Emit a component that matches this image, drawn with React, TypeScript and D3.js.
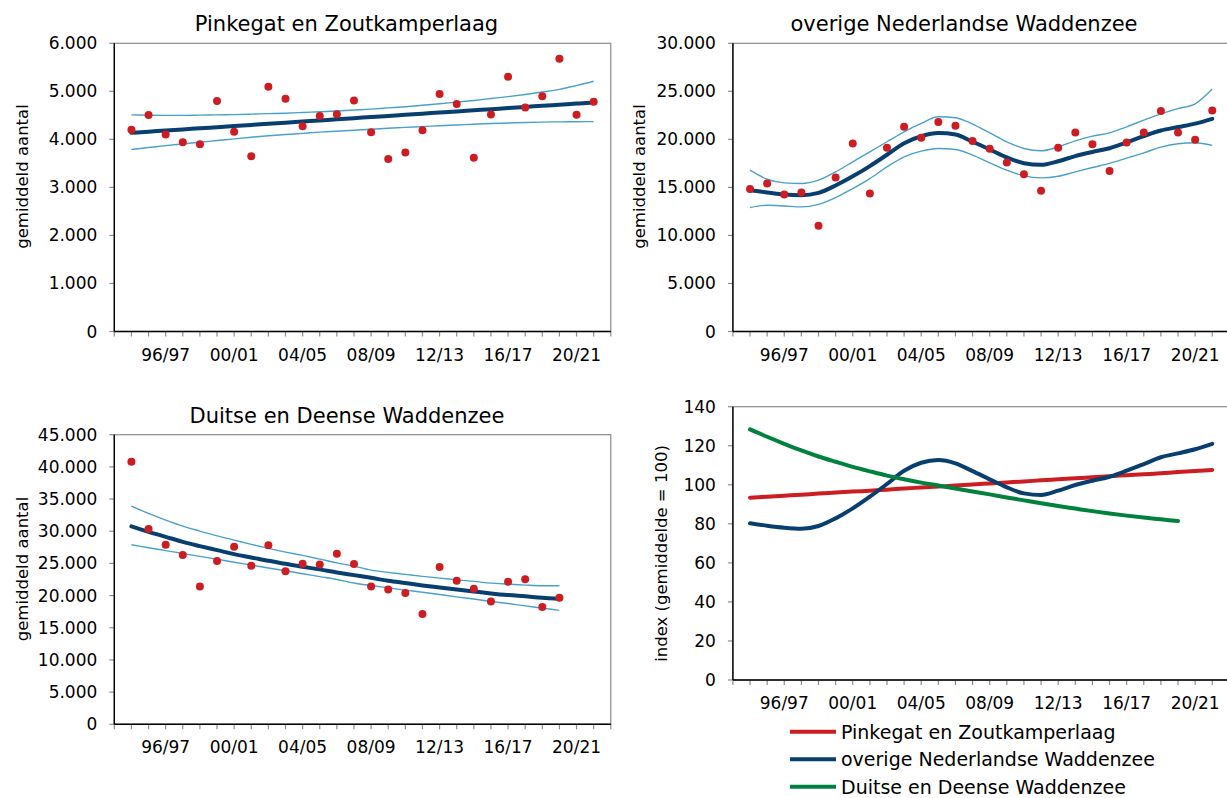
import React from "react";
import * as d3 from "d3";

// seizoenen 1994/95 t/m 2021/22
const seasons = [
  "94/95", "95/96", "96/97", "97/98", "98/99", "99/00", "00/01", "01/02",
  "02/03", "03/04", "04/05", "05/06", "06/07", "07/08", "08/09", "09/10",
  "10/11", "11/12", "12/13", "13/14", "14/15", "15/16", "16/17", "17/18",
  "18/19", "19/20", "20/21", "21/22",
];
const xTickLabels = ["96/97", "00/01", "04/05", "08/09", "12/13", "16/17", "20/21"];

// Pinkegat en Zoutkamperlaag
const pinkCounts = [4200, 4505, 4100, 3940, 3900, 4800, 4160, 3650, 5095, 4845, 4275, 4485, 4525, 4810, 4150, 3590, 3725, 4190, 4945, 4735, 3615, 4520, 5305, 4665, 4900, 5680, 4510, 4785];
const pinkTrend = [4137, 4160, 4184, 4207, 4231, 4254, 4277, 4301, 4324, 4348, 4371, 4394, 4418, 4441, 4465, 4488, 4511, 4535, 4558, 4582, 4605, 4628, 4652, 4675, 4699, 4722, 4745, 4769];
const pinkUpper = [4510, 4505, 4500, 4500, 4505, 4510, 4515, 4525, 4535, 4545, 4560, 4575, 4590, 4610, 4630, 4655, 4680, 4710, 4740, 4775, 4810, 4850, 4890, 4935, 4985, 5040, 5120, 5210];
const pinkLower = [3790, 3830, 3870, 3905, 3940, 3975, 4010, 4045, 4075, 4100, 4125, 4150, 4170, 4190, 4210, 4230, 4250, 4265, 4285, 4300, 4315, 4330, 4340, 4350, 4360, 4365, 4368, 4370];

// overige Nederlandse Waddenzee
const nlCounts = [14840, 15400, 14250, 14460, 11020, 16030, 19570, 14360, 19120, 21310, 20160, 21800, 21410, 19820, 19020, 17590, 16370, 14640, 19120, 20720, 19500, 16720, 19680, 20720, 22940, 20720, 19950, 23010];
const nlTrend = [14700, 14480, 14260, 14180, 14430, 15200, 16150, 17220, 18400, 19600, 20320, 20650, 20500, 19750, 18950, 18120, 17520, 17350, 17720, 18260, 18690, 19080, 19680, 20340, 20920, 21280, 21640, 22140];
const nlUpper = [16790, 15850, 15470, 15400, 15750, 16620, 17660, 18700, 19750, 20790, 21660, 22350, 22250, 21590, 20680, 19750, 19050, 18810, 19220, 19850, 20340, 20680, 21310, 22000, 22650, 23200, 23700, 25240];
const nlLower = [12900, 13140, 13070, 12970, 13240, 13940, 14880, 15920, 17140, 18180, 18770, 19050, 18950, 18360, 17560, 16790, 16200, 15990, 16160, 16620, 17070, 17500, 18050, 18600, 19200, 19550, 19650, 19380];

// Duitse en Deense Waddenzee (t/m 2019/20)
const dkCounts = [40780, 30330, 27890, 26290, 21430, 25360, 27580, 24630, 27840, 23800, 24940, 24850, 26490, 24890, 21400, 20960, 20390, 17130, 24430, 22300, 21060, 19100, 22140, 22520, 18210, 19660];
const dkTrend = [30750, 29910, 29130, 28350, 27690, 27070, 26440, 25930, 25400, 24940, 24470, 24070, 23600, 23180, 22760, 22300, 21940, 21580, 21270, 20960, 20650, 20340, 20080, 19880, 19660, 19500];
const dkUpper = [33900, 32760, 31720, 30790, 30020, 29290, 28620, 27950, 27330, 26760, 26240, 25670, 25090, 24580, 23960, 23600, 23290, 22980, 22720, 22450, 22210, 21940, 21790, 21630, 21520, 21520];
const dkLower = [27890, 27440, 26990, 26540, 26090, 25650, 25190, 24750, 24290, 23850, 23400, 22950, 22500, 21950, 21560, 21210, 20850, 20510, 20160, 19800, 19460, 19100, 18760, 18400, 18050, 17700];

// index (gemiddelde = 100)
const indexPink = [93.4, 93.9, 94.4, 94.9, 95.5, 96.0, 96.5, 97.0, 97.5, 98.1, 98.6, 99.1, 99.6, 100.2, 100.7, 101.2, 101.7, 102.3, 102.8, 103.3, 103.8, 104.4, 104.9, 105.4, 105.9, 106.5, 107.0, 107.6];
const indexNl = [80.3, 79.0, 78.0, 77.5, 78.9, 82.8, 87.9, 93.9, 100.4, 107.2, 111.3, 112.7, 111.0, 107.0, 102.8, 98.7, 95.6, 94.8, 97.0, 99.9, 102.1, 104.1, 107.2, 110.6, 114.1, 116.1, 118.2, 121.0];
const indexDk = [128.4, 124.6, 121.0, 117.6, 114.5, 111.8, 109.2, 106.9, 104.7, 102.8, 101.1, 99.6, 98.1, 96.6, 95.1, 93.5, 92.0, 90.5, 89.1, 87.8, 86.5, 85.3, 84.2, 83.2, 82.3, 81.4];

const yTicksPink = [0, 1000, 2000, 3000, 4000, 5000, 6000];
const yTicksNl = [0, 5000, 10000, 15000, 20000, 25000, 30000];
const yTicksDk = [0, 5000, 10000, 15000, 20000, 25000, 30000, 35000, 40000, 45000];
const yTicksIndex = [0, 20, 40, 60, 80, 100, 120, 140];

const legendNames = ["Pinkegat en Zoutkamperlaag", "overige Nederlandse Waddenzee", "Duitse en Deense Waddenzee"];

const FONT = "DejaVu Sans";
const RED = "#cc1d22";
const NAVY = "#083f6f";
const LIGHT = "#4aa0cc";
const GREEN = "#00813e";
const GRID = "#8c8c8c";
const SLOT = 17.12;

const nlLocale = d3.formatLocale({ decimal: ",", thousands: ".", grouping: [3], currency: ["€", ""] });
const fmtNum = nlLocale.format(",");

type Scale = d3.ScaleLinear<number, number>;

type PanelProps = {
  left: number;
  top: number;
  bottom: number;
  yTicks: number[];
  yTitle: string;
  yTitleX: number;
  yTitleY: number;
  title?: string;
  titleX?: number;
  titleY?: number;
  children: (x: Scale, y: Scale) => React.ReactNode;
};

function Panel(p: PanelProps) {
  const n = seasons.length + 1;
  const x = d3.scaleLinear().domain([0, n]).range([p.left, p.left + SLOT * n]);
  const y = d3
    .scaleLinear()
    .domain([0, p.yTicks[p.yTicks.length - 1]])
    .range([p.bottom, p.top]);
  const right = x(n);
  return (
    <g fontFamily={FONT}>
      <rect x={p.left} y={p.top} width={right - p.left} height={p.bottom - p.top} fill="none" stroke={GRID} strokeWidth={1.2} />
      {p.yTicks.map((t) => (
        <g key={t}>
          <line x1={p.left - 5} x2={p.left} y1={y(t)} y2={y(t)} stroke={GRID} strokeWidth={1.2} />
          <text x={p.left - 17} y={y(t) + 6} textAnchor="end" fontSize={17}>
            {fmtNum(t)}
          </text>
        </g>
      ))}
      {d3.range(0, n + 1).map((i) => (
        <line key={i} x1={x(i)} x2={x(i)} y1={p.bottom} y2={p.bottom + 5} stroke={GRID} strokeWidth={1.2} />
      ))}
      {xTickLabels.map((l) => (
        <text key={l} x={x(seasons.indexOf(l) + 1)} y={p.bottom + 29} textAnchor="middle" fontSize={17}>
          {l}
        </text>
      ))}
      <line x1={p.left} x2={p.left} y1={p.top} y2={p.bottom} stroke="#000" strokeWidth={1.4} />
      <line x1={p.left} x2={right} y1={p.bottom} y2={p.bottom} stroke="#000" strokeWidth={1.4} />
      {p.children(x, y)}
      {p.title && (
        <text x={p.titleX} y={p.titleY} textAnchor="middle" fontSize={21}>
          {p.title}
        </text>
      )}
      <text transform={`translate(${p.yTitleX},${p.yTitleY}) rotate(-90)`} textAnchor="middle" fontSize={16.5}>
        {p.yTitle}
      </text>
    </g>
  );
}

function Fit({ x, y, counts, trend, upper, lower }: { x: Scale; y: Scale; counts: number[]; trend: number[]; upper: number[]; lower: number[] }) {
  const line = d3
    .line<number>()
    .x((_, i) => x(i + 1))
    .y((d) => y(d))
    .curve(d3.curveMonotoneX);
  return (
    <g>
      <path d={line(upper) || ""} fill="none" stroke={LIGHT} strokeWidth={1.4} />
      <path d={line(lower) || ""} fill="none" stroke={LIGHT} strokeWidth={1.4} />
      <path d={line(trend) || ""} fill="none" stroke={NAVY} strokeWidth={4} strokeLinecap="round" />
      {counts.map((c, i) => (
        <circle key={i} cx={x(i + 1)} cy={y(c)} r={4} fill={RED} />
      ))}
    </g>
  );
}

export default function App() {
  const indexSeries = [
    { name: legendNames[0], values: indexPink, color: RED },
    { name: legendNames[1], values: indexNl, color: NAVY },
    { name: legendNames[2], values: indexDk, color: GREEN },
  ];
  return (
    <svg width={1227} height={798} style={{ position: "absolute", left: 0, top: 0, background: "#fff" }}>
      <rect width={1227} height={798} fill="#fff" />
      <Panel left={114.3} top={43.3} bottom={331.5} yTicks={yTicksPink} yTitle="gemiddeld aantal" yTitleX={27.5} yTitleY={176.5}
        title="Pinkegat en Zoutkamperlaag" titleX={346.5} titleY={30.7}>
        {(x, y) => <Fit x={x} y={y} counts={pinkCounts} trend={pinkTrend} upper={pinkUpper} lower={pinkLower} />}
      </Panel>
      <Panel left={732.9} top={43.3} bottom={331.5} yTicks={yTicksNl} yTitle="gemiddeld aantal" yTitleX={645} yTitleY={176.5}
        title="overige Nederlandse Waddenzee" titleX={964} titleY={30.7}>
        {(x, y) => <Fit x={x} y={y} counts={nlCounts} trend={nlTrend} upper={nlUpper} lower={nlLower} />}
      </Panel>
      <Panel left={114.3} top={434.7} bottom={724.3} yTicks={yTicksDk} yTitle="gemiddeld aantal" yTitleX={27.5} yTitleY={569}
        title="Duitse en Deense Waddenzee" titleX={347} titleY={422.7}>
        {(x, y) => <Fit x={x} y={y} counts={dkCounts} trend={dkTrend} upper={dkUpper} lower={dkLower} />}
      </Panel>
      <Panel left={732.9} top={406.7} bottom={680} yTicks={yTicksIndex} yTitle="index (gemiddelde = 100)" yTitleX={667} yTitleY={553.5}>
        {(x, y) => {
          const line = d3
            .line<number>()
            .x((_, i) => x(i + 1))
            .y((d) => y(d))
            .curve(d3.curveMonotoneX);
          return indexSeries.map((s) => (
            <path key={s.name} d={line(s.values) || ""} fill="none" stroke={s.color} strokeWidth={4} strokeLinecap="round" />
          ));
        }}
      </Panel>
      <g fontFamily={FONT}>
        {indexSeries.map((s, i) => {
          const ly = 731.7 + i * 27.5;
          return (
            <g key={s.name}>
              <line x1={790} x2={836} y1={ly} y2={ly} stroke={s.color} strokeWidth={4} />
              <text x={841} y={ly + 7} fontSize={19}>
                {s.name}
              </text>
            </g>
          );
        })}
      </g>
    </svg>
  );
}
